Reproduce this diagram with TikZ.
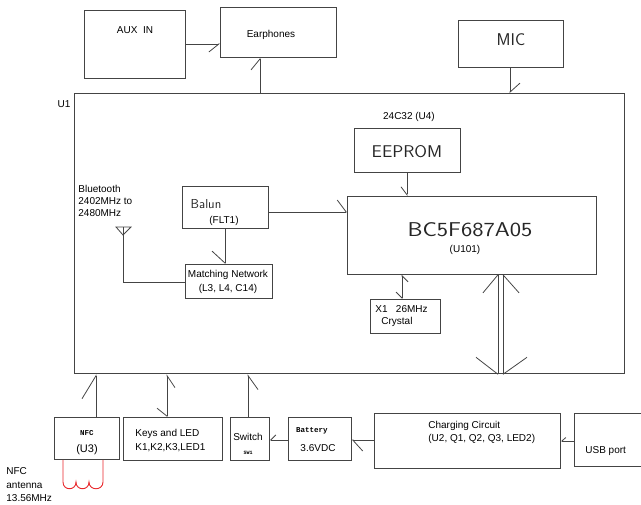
\documentclass[tikz,border=0pt]{standalone}
\usepackage{fontspec}
\setmainfont{Liberation Sans}
\newfontfamily\monob{Liberation Mono}
\usetikzlibrary{arrows.meta}
\definecolor{ln}{HTML}{444444}
\definecolor{coilred}{HTML}{E8262A}
\begin{document}
\begin{tikzpicture}[x=1pt,y=-1pt,
  line width=0.8pt,
  box/.style={draw=ln, line width=0.8pt, inner sep=0pt, anchor=north west, fill=none},
  txt/.style={inner sep=0pt, font=\fontsize{10}{12}\selectfont, text=black},
  stroke/.style={inner sep=0pt, font=\sffamily, text=black!85},
  tiny/.style={inner sep=0pt, font=\monob\bfseries\fontsize{7.5}{9}\selectfont, text=black},
  conn/.style={draw=ln, line width=0.8pt},
  hl/.style 2 args={conn, -{Straight Barb[harpoon,length=#1pt,width=#2pt]}},
  hr/.style 2 args={conn, -{Straight Barb[harpoon,swap,length=#1pt,width=#2pt]}},
  coil/.style={draw=coilred, line width=0.9pt}]
\useasboundingbox (0,0) rectangle (641,505);

% ---------- boxes ----------
\node[box, minimum width=101pt, minimum height=68pt] (aux) at (84,10) {};
\node[box, minimum width=116pt, minimum height=50pt] (ear) at (220,7) {};
\node[box, minimum width=105pt, minimum height=47pt] (mic) at (458,20) {};
\node[box, minimum width=550pt, minimum height=280.5pt] (u1) at (74,93) {};
\node[box, minimum width=106pt, minimum height=44pt] (eep) at (354,128) {};
\node[box, minimum width=249pt, minimum height=78pt] (bc) at (347,196) {};
\node[box, minimum width=70pt, minimum height=34pt] (xtal) at (370,299) {};
\node[box, minimum width=86pt, minimum height=42pt] (balun) at (182,186) {};
\node[box, minimum width=87pt, minimum height=34pt] (match) at (185,264) {};
\node[box, minimum width=65pt, minimum height=42pt] (nfc) at (54,417) {};
\node[box, minimum width=99pt, minimum height=43pt] (keys) at (123,417) {};
\node[box, minimum width=39pt, minimum height=43pt] (sw) at (230,417) {};
\node[box, minimum width=63pt, minimum height=43pt] (bat) at (288,417) {};
\node[box, minimum width=186pt, minimum height=55pt] (chg) at (374,413) {};
\node[box, minimum width=66.5pt, minimum height=53pt] (usb) at (574,413) {};

% ---------- texts ----------
\node[txt] (tAux) at (135,30) {AUX\ \ IN};
\node[txt] (tEar) at (271,35) {Earphones};
\node[stroke, font=\sffamily\fontsize{17}{20}\selectfont] (tMic) at (511,40) {MIC};
\node[txt] (tU1) at (64,104) {U1};
\node[txt] (tU4) at (409,117) {24C32 (U4)};
\node[stroke, font=\sffamily\fontsize{17}{20}\selectfont] (tEep) at (407,152) {\scalebox{1.08}[1]{EEPROM}};
\node[stroke, font=\sffamily\fontsize{20}{24}\selectfont] (tBc) at (470,230) {\scalebox{1.2}[1]{BC5F687A05}};
\node[txt] (tU101) at (465,250) {(U101)};
\node[txt, align=left, anchor=west] (tBt) at (78,201) {Bluetooth\\2402MHz to\\2480MHz};
\node[stroke, font=\sffamily\fontsize{13}{15}\selectfont] (tBal) at (206,204) {Balun};
\node[txt] (tFlt) at (224,221) {(FLT1)};
\node[txt] (tM1) at (228,275) {Matching Network};
\node[txt] (tM2) at (228,289) {(L3, L4, C14)};
\node[txt, anchor=west] (tX1) at (375,309) {X1\ \ \ 26MHz};
\node[txt, anchor=west] (tX2) at (381,322) {Crystal};
\node[tiny] (tNfc) at (87,433) {NFC};
\node[txt, font=\fontsize{11}{13}\selectfont] (tU3) at (87,450) {(U3)};
\node[txt, anchor=west] (tK1) at (135,434) {Keys and LED};
\node[txt, anchor=west] (tK2) at (135,448) {K1,K2,K3,LED1};
\node[txt] (tSw) at (248,437) {Switch};
\node[tiny, font=\monob\bfseries\fontsize{5}{6}\selectfont] (tSw1) at (248,453) {SW1};
\node[tiny] (tBat) at (312,431) {Battery};
\node[txt] (tV) at (318,448) {3.6VDC};
\node[txt, anchor=west] (tC1) at (428,426) {Charging Circuit};
\node[txt, anchor=west] (tC2) at (428,439) {(U2, Q1, Q2, Q3, LED2)};
\node[txt, anchor=west] (tUsb) at (585,451) {USB port};
\node[txt, align=left, anchor=west, font=\fontsize{10}{13.5}\selectfont] (tAnt) at (6,485) {NFC\\antenna\\13.56MHz};

% ---------- connectors ----------
\draw[hr={10}{16}] (aux.east |- 0,44) -- (ear.west |- 0,44);
\draw[hl={11}{18}] (u1.north -| 260,0) -- (ear.south -| 260,0);
\draw[hl={9}{20}] (mic.south -| 510,0) -- (u1.north -| 510,0);
\draw[hr={8}{12}] (eep.south -| 407,0) -- (bc.north -| 407,0);
\draw[hl={9}{24}] (balun.east |- 0,212) -- (bc.west |- 0,212);
\draw[hr={12}{26}] (balun.south -| 225,0) -- (match.north -| 225,0);
\draw[conn, {Straight Barb[harpoon,swap,length=6pt,width=12pt]}-{Straight Barb[harpoon,swap,length=6pt,width=12pt]}] (bc.south -| 402,0) -- (xtal.north -| 402,0);
\draw[hl={23}{28}] (nfc.north -| 96,0) -- (u1.south -| 96,0);
\draw[conn, {Straight Barb[harpoon,swap,length=12pt,width=16pt]}-{Straight Barb[harpoon,swap,length=8pt,width=20pt]}] (u1.south -| 167,0) -- (keys.north -| 167,0);
\draw[hr={14}{20}] (sw.north -| 248,0) -- (u1.south -| 248,0);
\draw[hr={5}{10}] (bat.west |- 0,440) -- (sw.east |- 0,440);
\draw[hl={10}{22}] (chg.west |- 0,440) -- (bat.east |- 0,440);
\draw[hr={4}{7}] (usb.west |- 0,441) -- (chg.east |- 0,441);

% bus double arrow
\draw[conn] (bc.south -| 498,0) -- (u1.south -| 498,0);
\draw[conn] (bc.south -| 503,0) -- (u1.south -| 503,0);
\draw[conn] (bc.south -| 498,0) -- ++(-15,18);
\draw[conn] (bc.south -| 503,0) -- ++(16,18);
\draw[conn] (u1.south -| 498,0) -- ++(-22,-17);
\draw[conn] (u1.south -| 503,0) -- ++(24,-17);

% bluetooth antenna
\coordinate (antTop) at (123,227);
\draw[conn] (116,227) -- (131,227) -- (123,235) -- cycle;
\draw[conn] (antTop) -- (123,282) -- (match.west |- 0,282);

% NFC coil
\draw[coil] (nfc.south -| 63,0) -- (63,482)
  .. controls (63,491) and (76,491) .. (76,482)
  .. controls (76,491) and (89,491) .. (89,482)
  .. controls (89,491) and (103,491) .. (103,482) -- (nfc.south -| 103,0);
\end{tikzpicture}
\end{document}
